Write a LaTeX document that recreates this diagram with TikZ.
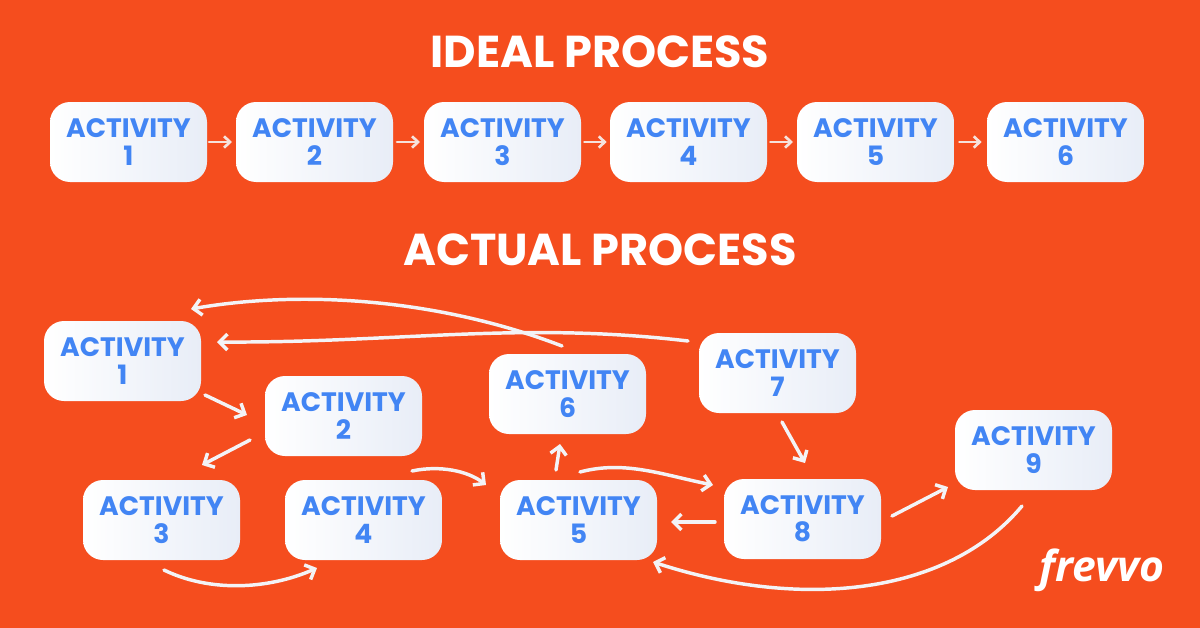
\documentclass[tikz,border=0pt]{standalone}
\usepackage{fontspec}
\setmainfont{Poppins}
\newfontfamily\logofont{Open Sans}
\usetikzlibrary{arrows.meta, positioning}
\definecolor{bgorange}{RGB}{245,77,30}
\definecolor{cardend}{RGB}{232,237,247}
\definecolor{activityblue}{RGB}{66,133,244}
\definecolor{linkwhite}{RGB}{243,243,246}
\definecolor{softwhite}{RGB}{246,226,220}
\tikzset{
  activity/.style={rounded corners=15pt, left color=white, right color=cardend, draw=none,
    minimum width=117.75pt, minimum height=60pt, inner sep=0pt, outer sep=0pt,
    text width=110pt, align=center, text=activityblue,
    font=\fontsize{20}{20.5}\selectfont\bfseries},
  heading/.style={text=white, font=\fontsize{33.5}{36}\selectfont\bfseries},
  softlink/.style={-{Straight Barb[length=4.5pt,width=8.5pt]}, softwhite, line width=2pt, line cap=round},
  link/.style={-{Straight Barb[length=6pt,width=12pt]}, linkwhite, line width=2.6pt, line cap=round}
}
\begin{document}
\begin{tikzpicture}[x=0.75pt, y=-0.75pt]
        \fill[bgorange] (0,0) rectangle (1200,628);
        \useasboundingbox (0,0) rectangle (1200,628);
        \node[heading] (ideal) at (600,52) {IDEAL PROCESS};
        \node[heading] (actual) at (600,250) {ACTUAL PROCESS};
        \node[activity] (ia1) at (128.5,142) {ACTIVITY\\1};
        \node[activity] (ia2) at (314.5,142) {ACTIVITY\\2};
        \node[activity] (ia3) at (502.5,142) {ACTIVITY\\3};
        \node[activity] (ia4) at (688.5,142) {ACTIVITY\\4};
        \node[activity] (ia5) at (875.5,142) {ACTIVITY\\5};
        \node[activity] (ia6) at (1065.5,142) {ACTIVITY\\6};
        \draw[softlink] ([xshift=1.5pt]ia1.east) -- ([xshift=-3pt]ia2.west);
        \draw[softlink] ([xshift=3pt]ia2.east) -- ([xshift=-3pt]ia3.west);
        \draw[softlink] ([xshift=2.5pt]ia3.east) -- ([xshift=-2.5pt]ia4.west);
        \draw[softlink] ([xshift=2.5pt]ia4.east) -- ([xshift=-3pt]ia5.west);
        \draw[softlink] ([xshift=4pt]ia5.east) -- ([xshift=-4pt]ia6.west);
        \node[activity] (aa1) at (122.5,361) {ACTIVITY\\1};
        \node[activity] (aa2) at (343.5,416) {ACTIVITY\\2};
        \node[activity] (aa3) at (161.5,520) {ACTIVITY\\3};
        \node[activity] (aa4) at (363.5,520) {ACTIVITY\\4};
        \node[activity] (aa5) at (578.5,520) {ACTIVITY\\5};
        \node[activity] (aa6) at (567.5,394) {ACTIVITY\\6};
        \node[activity] (aa7) at (777.5,373) {ACTIVITY\\7};
        \node[activity] (aa8) at (802.5,519) {ACTIVITY\\8};
        \node[activity] (aa9) at (1033.5,450) {ACTIVITY\\9};
        \draw[link] ([shift={(4,-6)}]aa1.south east) -- ([shift={(-18,-1)}]aa2.west);
        \draw[link] ([shift={(-15,24)}]aa2.west) -- ([shift={(40.5,-15)}]aa3.north);
        \draw[link] ([shift={(2.5,10)}]aa3.south) .. controls +(45,22) and +(-50,22) .. ([shift={(-46.5,8)}]aa4.south);
        \draw[link] ([shift={(48.5,-9)}]aa4.north) .. controls +(28,-6) and +(-18,-14) .. ([shift={(-14,5)}]aa5.north west);
        \draw[link] ([shift={(-22.5,-10)}]aa5.north) -- ([shift={(-7.5,10)}]aa6.south);
        \draw[link] ([shift={(1.5,-8)}]aa5.north) .. controls +(45,-12) and +(-50,-10) .. ([shift={(-11,6)}]aa8.north west);
        \draw[link] ([shift={(-9,3)}]aa8.west) -- ([shift={(14,2)}]aa5.east);
        \draw[link] ([shift={(4.5,9)}]aa7.south) -- ([shift={(2.5,-16)}]aa8.north);
        \draw[link] ([shift={(11,-3)}]aa8.east) -- ([shift={(-7,-3)}]aa9.south west);
        \draw[link] ([shift={(-11.5,16)}]aa9.south) .. controls +(-75,90) and +(147,48) .. ([shift={(-4,2)}]aa5.south east);
        \draw[link] ([shift={(-5.5,-8)}]aa6.north) .. controls +(-125,-48) and +(109,-19) .. ([shift={(-10,-12)}]aa1.north east);
        \draw[link] ([shift={(-11,8)}]aa7.north west) .. controls +(-170,-20) and +(183,1) .. ([shift={(16,-19)}]aa1.east);
        \node[text=white, font=\logofont\fontsize{32}{34}\selectfont\bfseries\itshape] (logo) at (1102,570) {frevvo};
\end{tikzpicture}
\end{document}
